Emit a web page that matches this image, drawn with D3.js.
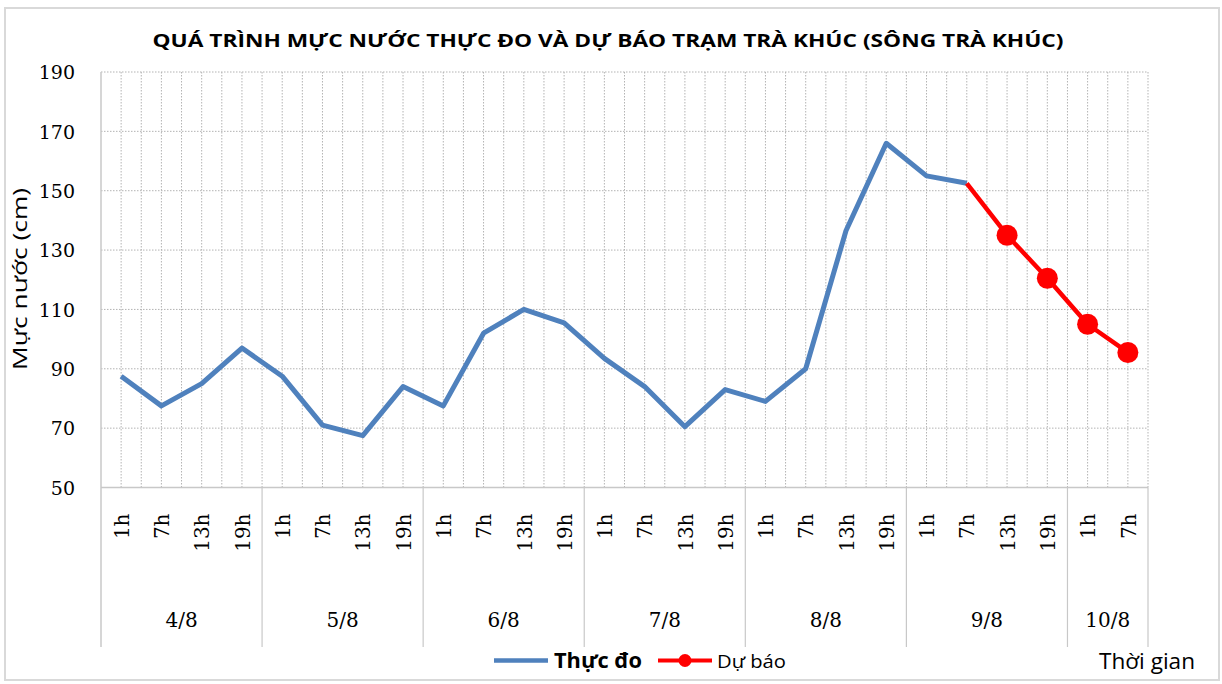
<!DOCTYPE html>
<html>
<head>
<meta charset="utf-8">
<script src="https://cdn.jsdelivr.net/npm/d3@7"></script>
<style>
  body { margin: 0; background: #fff; }
  svg text { fill: #000; }
</style>
</head>
<body>
<script>
// data
const days = ["4/8", "5/8", "6/8", "7/8", "8/8", "9/8", "10/8"];
const dayHours = [4, 4, 4, 4, 4, 4, 2];
const hours = ["1h", "7h", "13h", "19h", "1h", "7h", "13h", "19h", "1h", "7h", "13h", "19h",
               "1h", "7h", "13h", "19h", "1h", "7h", "13h", "19h", "1h", "7h", "13h", "19h",
               "1h", "7h"];
const observed = [87.5, 77.5, 85, 97, 87.5, 71, 67.5, 84, 77.5, 102, 110, 105.5,
                  93.5, 84, 70.5, 83, 79, 90, 136.5, 166, 155, 152.5];
const forecastStart = 21;   // forecast joins the last observed point
const forecast = [152.5, 135, 120.5, 105, 95.5];
const yTicks = [50, 70, 90, 110, 130, 150, 170, 190];

const title = "QUÁ TRÌNH MỰC NƯỚC THỰC ĐO VÀ DỰ BÁO TRẠM TRÀ KHÚC (SÔNG TRÀ KHÚC)";

const W = 1222, H = 684;
const plotLeft = 101, plotRight = 1148, plotTop = 72, plotBottom = 487.5;

const svg = d3.select("body").append("svg")
    .attr("width", W)
    .attr("height", H);

// outer border
svg.append("rect")
    .attr("x", 5).attr("y", 8)
    .attr("width", 1214).attr("height", 672)
    .attr("fill", "#fff")
    .attr("stroke", "#d9d9d9")
    .attr("stroke-width", 2);

const x = d3.scalePoint()
    .domain(d3.range(hours.length))
    .range([plotLeft, plotRight])
    .padding(0.5);
const step = x.step();

const y = d3.scaleLinear()
    .domain([50, 190])
    .range([plotBottom, plotTop]);

// dotted gridlines
const grid = svg.append("g").attr("class", "grid")
    .attr("stroke", "#b3b3b3")
    .attr("stroke-width", 1)
    .attr("stroke-dasharray", "1.5,1.5");

let vx = [];
for (let i = 0; i < hours.length; ++i) {
    vx.push(x(i) - step / 2);
    vx.push(x(i));
}
vx.push(x(hours.length - 1) + step / 2);
grid.selectAll("line.v").data(vx.slice(1)).enter().append("line")
    .attr("class", "v")
    .attr("x1", d => d).attr("x2", d => d)
    .attr("y1", plotTop).attr("y2", plotBottom);
grid.selectAll("line.h").data(yTicks.slice(1)).enter().append("line")
    .attr("class", "h")
    .attr("x1", plotLeft).attr("x2", plotRight)
    .attr("y1", d => y(d)).attr("y2", d => y(d));

// y axis
const yAxis = d3.axisLeft(y).tickValues(yTicks).tickSize(0).tickPadding(0);
const gy = svg.append("g")
    .attr("transform", "translate(" + (plotLeft - 26) + ",0)")
    .call(yAxis);
gy.select(".domain").remove();
gy.selectAll("text")
    .attr("font-family", "DejaVu Serif")
    .attr("font-size", 19)
    .attr("dy", "0.36em");

// axis lines
const axisColor = "#c8c8c8";
svg.append("line")
    .attr("x1", plotLeft).attr("x2", plotLeft)
    .attr("y1", plotTop).attr("y2", 647)
    .attr("stroke", axisColor).attr("stroke-width", 1.5);
svg.append("line")
    .attr("x1", plotLeft).attr("x2", plotRight)
    .attr("y1", plotBottom).attr("y2", plotBottom)
    .attr("stroke", axisColor).attr("stroke-width", 1.5);

// day separators and day labels
let start = 0;
let sepX = [];
let dayCenters = [];
for (let d = 0; d < days.length; ++d) {
    let a = x(start) - step / 2;
    let b = x(start + dayHours[d] - 1) + step / 2;
    dayCenters.push((a + b) / 2);
    sepX.push(b);
    start += dayHours[d];
}
svg.selectAll("line.sep").data(sepX).enter().append("line")
    .attr("class", "sep")
    .attr("x1", d => d).attr("x2", d => d)
    .attr("y1", plotBottom).attr("y2", 647)
    .attr("stroke", axisColor).attr("stroke-width", 1.2);

svg.selectAll("text.day").data(days).enter().append("text")
    .attr("class", "day")
    .attr("x", (d, i) => dayCenters[i])
    .attr("y", 627)
    .attr("text-anchor", "middle")
    .attr("font-family", "DejaVu Serif")
    .attr("font-size", 20)
    .text(d => d);

// hour labels, rotated
const xAxis = d3.axisBottom(x).tickSize(0).tickFormat(i => hours[i]);
const gx = svg.append("g")
    .attr("transform", "translate(0," + plotBottom + ")")
    .call(xAxis);
gx.select(".domain").remove();
gx.selectAll("text")
    .attr("font-family", "DejaVu Serif")
    .attr("font-size", 20)
    .attr("text-anchor", "end")
    .attr("transform", "translate(0,26) rotate(-90)")
    .attr("x", 0).attr("y", 0)
    .attr("dy", "0.36em");

// observed line
const line = d3.line()
    .x(d => x(d[0]))
    .y(d => y(d[1]));
svg.append("path")
    .datum(observed.map((v, i) => [i, v]))
    .attr("fill", "none")
    .attr("stroke", "#4F81BD")
    .attr("stroke-width", 5)
    .attr("stroke-linejoin", "round")
    .attr("d", line);

// forecast line
const fc = forecast.map((v, i) => [forecastStart + i, v]);
svg.append("path")
    .datum(fc)
    .attr("fill", "none")
    .attr("stroke", "#FF0000")
    .attr("stroke-width", 4.5)
    .attr("stroke-linejoin", "round")
    .attr("d", line);
svg.selectAll("circle.fc").data(fc.slice(1)).enter().append("circle")
    .attr("class", "fc")
    .attr("cx", d => x(d[0]))
    .attr("cy", d => y(d[1]))
    .attr("r", 10.5)
    .attr("fill", "#FF0000");

// title
svg.append("text")
    .attr("x", 608).attr("y", 47)
    .attr("text-anchor", "middle")
    .attr("font-family", "Open Sans")
    .attr("font-weight", "bold")
    .attr("font-size", 18.5)
    .attr("textLength", 911)
    .attr("lengthAdjust", "spacingAndGlyphs")
    .text(title);

// y axis title
svg.append("text")
    .attr("transform", "translate(27,279) rotate(-90)")
    .attr("text-anchor", "middle")
    .attr("font-family", "Open Sans")
    .attr("font-size", 20)
    .attr("textLength", 182)
    .attr("lengthAdjust", "spacingAndGlyphs")
    .text("Mực nước (cm)");

// legend
const ly = 660.5;
svg.append("line")
    .attr("x1", 494).attr("x2", 548)
    .attr("y1", ly).attr("y2", ly)
    .attr("stroke", "#4F81BD").attr("stroke-width", 4.5);
svg.append("text")
    .attr("x", 554).attr("y", 668)
    .attr("font-family", "Open Sans")
    .attr("font-weight", "bold")
    .attr("font-size", 22)
    .attr("textLength", 88)
    .attr("lengthAdjust", "spacingAndGlyphs")
    .text("Thực đo");
svg.append("line")
    .attr("x1", 658).attr("x2", 712)
    .attr("y1", ly).attr("y2", ly)
    .attr("stroke", "#FF0000").attr("stroke-width", 4);
svg.append("circle")
    .attr("cx", 685).attr("cy", ly).attr("r", 6.5)
    .attr("fill", "#FF0000");
svg.append("text")
    .attr("x", 717).attr("y", 668)
    .attr("font-family", "Open Sans")
    .attr("font-size", 19)
    .attr("textLength", 69)
    .attr("lengthAdjust", "spacingAndGlyphs")
    .text("Dự báo");

svg.append("text")
    .attr("x", 1099).attr("y", 669)
    .attr("font-family", "Open Sans")
    .attr("font-size", 21)
    .attr("textLength", 96)
    .attr("lengthAdjust", "spacingAndGlyphs")
    .text("Thời gian");
</script>
</body>
</html>
